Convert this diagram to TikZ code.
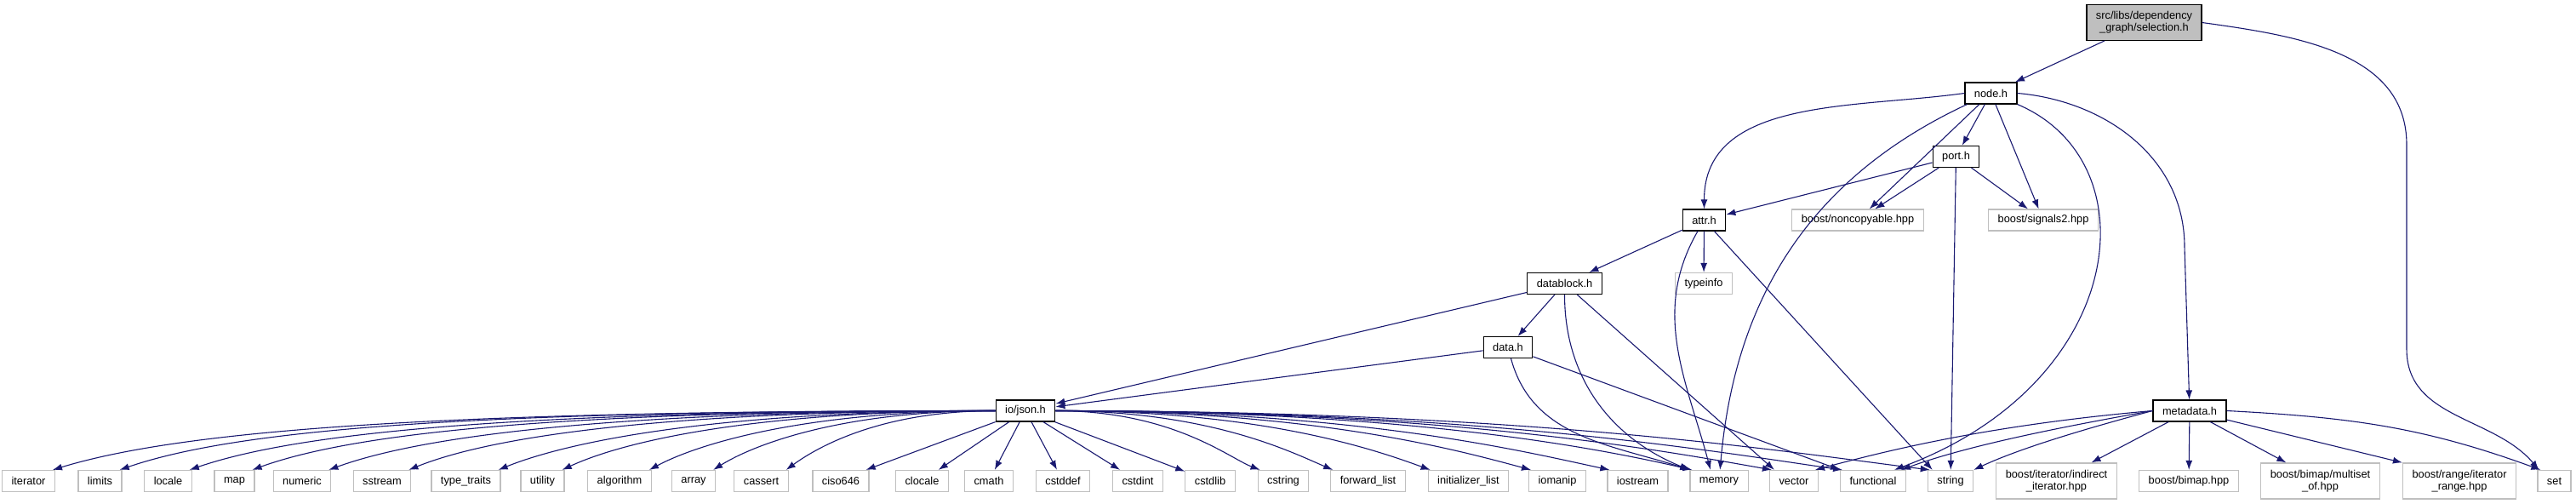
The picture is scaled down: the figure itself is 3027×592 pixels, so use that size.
\documentclass[tikz,border=0pt]{standalone}
\usepackage{fontspec}
\newfontfamily\doxfont{Liberation Sans}
\usepackage{tikz}
\usetikzlibrary{arrows.meta}
\definecolor{edgeblue}{RGB}{25,25,112}
\definecolor{grey75}{RGB}{191,191,191}
\tikzstyle{hdr} = [draw, rectangle, line width=0.6pt, fill=white, align=center, font=\doxfont\fontsize{6.4}{7}\selectfont, minimum height=12.5pt, inner xsep=5.5pt, inner ysep=0pt]
\tikzstyle{sys} = [hdr, draw=grey75]
\tikzstyle{root} = [hdr, fill=grey75]
\tikzstyle{dep} = [draw=edgeblue, line width=0.55pt, -{Latex[length=5.5pt, width=4pt]}]

\begin{document}
\begin{tikzpicture}[x=0.5pt, y=0.5pt]
        \useasboundingbox (0,0) rectangle (3027,-592);
        \node[root, minimum height=21pt] (sel) at (2519.5,-26.5) {src/libs/dependency\\\_graph/selection.h};
        \node[hdr] (node) at (2339.5,-109.5) {node.h};
        \node[hdr] (port) at (2298.5,-184) {port.h};
        \node[hdr] (attr) at (2002.5,-258.5) {attr.h};
        \node[sys] (noncopy) at (2183,-258.5) {boost/noncopyable.hpp};
        \node[sys] (signals) at (2401,-258.5) {boost/signals2.hpp};
        \node[hdr] (datablock) at (1838.5,-333) {datablock.h};
        \node[sys] (typeinfo) at (2002,-333) {typeinfo};
        \node[hdr] (data) at (1772,-408) {data.h};
        \node[hdr] (json) at (1205,-482.5) {io/json.h};
        \node[hdr] (metadata) at (2573,-482.5) {metadata.h};
        % bottom row
        \foreach \n/\x/\t in {iterator/33.5/iterator, limits/117.5/limits, locale/197.5/locale, map/275.5/map, numeric/355/numeric, sstream/449/sstream, typetraits/547.5/type\_traits, utility/637.5/utility, algorithm/728/algorithm, array/815/array, cassert/894.5/cassert, ciso646/988/ciso646, clocale/1083.5/clocale, cmath/1162/cmath, cstddef/1249/cstddef, cstdint/1337/cstdint, cstdlib/1422/cstdlib, cstring/1508/cstring, forwardlist/1607.5/forward\_list, initlist/1725.5/initializer\_list, iomanip/1830/iomanip, iostream/1924.5/iostream, memory/2020/memory, vector/2108/vector, functional/2201/functional, string/2292/string, set/3001.5/set}
            \node[sys] (\n) at (\x,-565) {\t};
        \node[sys, minimum height=21pt] (indirect) at (2416.5,-565) {boost/iterator/indirect\\\_iterator.hpp};
        \node[sys] (bimap) at (2572,-565) {boost/bimap.hpp};
        \node[sys, minimum height=21pt] (multiset) at (2726.5,-565) {boost/bimap/multiset\\\_of.hpp};
        \node[sys, minimum height=21pt] (range) at (2890,-565) {boost/range/iterator\\\_range.hpp};

        \draw[dep] (sel) -- (node);
        \draw[dep] (sel.east) to[out=-8, in=90] (2828,-170) -- (2828,-410) to[out=-90, in=130] ([xshift=1pt]set.north west);
        \draw[dep] (node.west) to[out=188, in=90] (attr.north);
        \draw[dep] (node) to[out=-155, in=85] (memory);
        \draw[dep] (node) -- (noncopy);
        \draw[dep] (node) -- (port);
        \draw[dep] (node) -- (signals);
        \draw[dep] (node.south east) .. controls (2530,-190) and (2500,-450) .. ([xshift=-7pt]functional.north east);
        \draw[dep] (node.east) to[out=-5, in=90] (2567,-290) -- (metadata);
        \draw[dep] (port) -- (attr);
        \draw[dep] (port) -- (noncopy);
        \draw[dep] (port) -- (signals);
        \draw[dep] (port) -- (string);
        \draw[dep] (attr) -- (datablock);
        \draw[dep] (attr) -- (typeinfo);
        \draw[dep] (attr) to[out=-120, in=105] ([xshift=-5pt]memory.north);
        \draw[dep] (attr) -- ([xshift=3pt]string.north west);
        \draw[dep] (datablock) -- (json);
        \draw[dep] (datablock) -- (data);
        \draw[dep] (datablock) to[out=-90, in=158] (memory.north west);
        \draw[dep] (datablock) -- ([xshift=3pt]vector.north west);
        \draw[dep] (data) -- (json);
        \draw[dep] (data) to[out=-75, in=162] (memory.north west);
        \draw[dep] (data) -- (functional.north west);
        % io/json.h fan
        \foreach \n/\a in {iterator/17, limits/19, locale/19, map/20, numeric/20, sstream/22, typetraits/22, utility/25, algorithm/28, array/32, cassert/36}
            \draw[dep] (json.west) to[out=180, in=\a, out looseness=1.4, in looseness=0.4] ([xshift=-1.5pt]\n.north east);
        \draw[dep] (json) -- ([xshift=-2pt]ciso646.north east);
        \foreach \n in {clocale, cmath, cstddef, cstdint, cstdlib}
            \draw[dep] (json) -- (\n);
        \foreach \n/\a in {cstring/159, forwardlist/157, initlist/160, iomanip/165, iostream/168, memory/167, vector/170, functional/172, string/173}
            \draw[dep] (json.east) to[out=0, in=\a, out looseness=1.4, in looseness=0.4] ([xshift=1.5pt]\n.north west);
        % metadata.h fan
        \draw[dep] (metadata.west) to[out=185, in=15, out looseness=1.2, in looseness=0.6] ([xshift=-2pt]vector.north east);
        \draw[dep] (metadata.west) to[out=190, in=20, out looseness=1.2, in looseness=0.6] ([xshift=-3pt]functional.north east);
        \draw[dep] (metadata.west) to[out=195, in=25, out looseness=1.2, in looseness=0.6] (string.north east);
        \draw[dep] (metadata) -- (indirect);
        \draw[dep] (metadata) -- (bimap);
        \draw[dep] (metadata) -- (multiset);
        \draw[dep] (metadata) -- (range.north west);
        \draw[dep] (metadata.east) to[out=-3, in=160] ([xshift=2pt]set.north west);
    \end{tikzpicture}
\end{document}
